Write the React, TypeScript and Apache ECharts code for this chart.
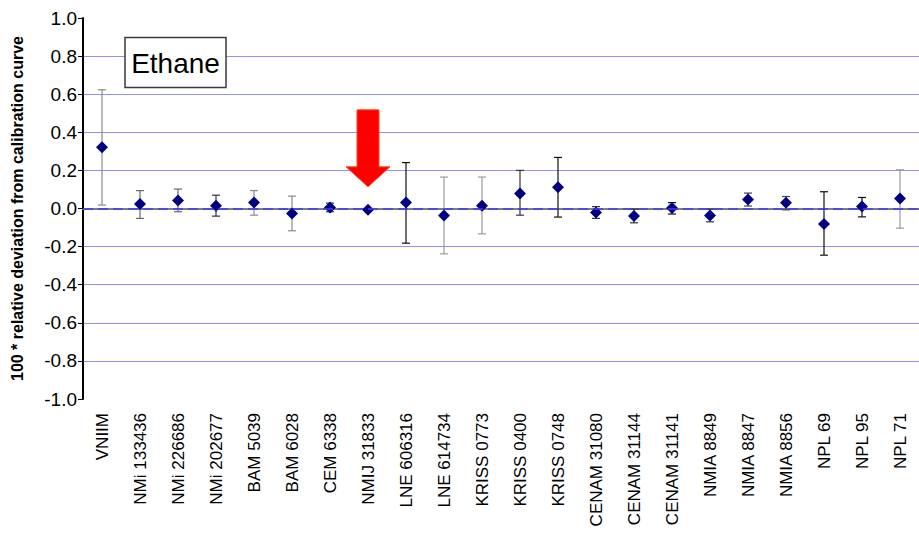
import React, { useEffect, useRef } from "react";
import * as echarts from "echarts";

const CATEGORIES = [
  "VNIIM", "NMi 133436", "NMi 226686", "NMi 202677", "BAM 5039", "BAM 6028",
  "CEM 6338", "NMIJ 31833", "LNE 606316", "LNE 614734", "KRISS 0773", "KRISS 0400",
  "KRISS 0748", "CENAM 31080", "CENAM 31144", "CENAM 31141", "NMIA 8849", "NMIA 8847",
  "NMIA 8856", "NPL 69", "NPL 95", "NPL 71",
];

const VALUES = [
  0.322, 0.023, 0.042, 0.014, 0.031, -0.026, 0.005, -0.007, 0.031, -0.037, 0.014,
  0.079, 0.112, -0.021, -0.04, 0.002, -0.037, 0.047, 0.03, -0.082, 0.01, 0.052,
];

const UPPER = [
  0.623, 0.094, 0.102, 0.07, 0.094, 0.065, 0.028, null, 0.241, 0.165, 0.165,
  0.2, 0.268, 0.01, -0.003, 0.031, -0.003, 0.081, 0.063, 0.088, 0.058, 0.203,
];

const LOWER = [
  0.018, -0.052, -0.017, -0.04, -0.035, -0.117, -0.017, null, -0.182, -0.238, -0.133,
  -0.035, -0.045, -0.052, -0.075, -0.029, -0.07, 0.013, -0.007, -0.245, -0.044, -0.103,
];

const Y_MIN = -1;
const Y_MAX = 1;
const Y_STEP = 0.2;
const Y_TITLE = "100 * relative deviation from calibration curve";
const LEGEND_TEXT = "Ethane";
const HIGHLIGHT = "NMIJ 31833";

// style only: tone of each error bar
const BAR_TONES = [
  "#8a8a8a", "#6a6a6a", "#6a6a6a", "#333333", "#8a8a8a", "#8a8a8a", "#333333", "#333333",
  "#111111", "#9a9a9a", "#9a9a9a", "#333333", "#111111", "#333333", "#333333", "#111111",
  "#333333", "#444444", "#444444", "#111111", "#111111", "#9a9a9a",
];

export default function App() {
  const ref = useRef<HTMLDivElement>(null);

  useEffect(() => {
    if (!ref.current) return;
    const chart = echarts.init(ref.current, null, { renderer: "svg" });

    const errData = CATEGORIES.map((_, i) => [i, LOWER[i], UPPER[i]]).filter(
      (d) => d[1] !== null && d[2] !== null
    );

    const nLines = Math.round((Y_MAX - Y_MIN) / Y_STEP) + 1;
    const gridColors = Array.from({ length: nLines }, (_, i) => {
      const v = Y_MIN + i * Y_STEP;
      if (Math.abs(v) < 1e-9 || Math.abs(v - Y_MAX) < 1e-9 || Math.abs(v - Y_MIN) < 1e-9)
        return "rgba(0,0,0,0)";
      return "#9090ff";
    });

    chart.setOption({
      animation: false,
      backgroundColor: "#ffffff",
      grid: { left: 83, right: 0, top: 18, bottom: 135, containLabel: false },
      xAxis: {
        type: "category",
        data: CATEGORIES,
        boundaryGap: true,
        axisLine: { show: true, lineStyle: { color: "#7f7f7f", width: 2 } },
        axisTick: { show: false },
        axisLabel: {
          rotate: 90,
          interval: 0,
          margin: 14,
          color: "#000",
          fontFamily: "Liberation Sans, Arial, sans-serif",
          fontSize: 17,
        },
        splitLine: { show: false },
      },
      yAxis: {
        type: "value",
        min: Y_MIN,
        max: Y_MAX,
        interval: Y_STEP,
        name: Y_TITLE,
        nameLocation: "middle",
        nameGap: 58,
        nameTextStyle: {
          fontFamily: "Liberation Sans, Arial, sans-serif",
          fontWeight: "bold",
          fontSize: 16,
          color: "#000",
        },
        axisLine: { show: true, lineStyle: { color: "#000", width: 2 } },
        axisTick: { show: true, inside: false, length: 5, lineStyle: { color: "#000" } },
        axisLabel: {
          margin: 6,
          color: "#000",
          fontFamily: "Liberation Sans, Arial, sans-serif",
          fontSize: 19,
          formatter: (v: number) => v.toFixed(1),
        },
        splitLine: { show: true, lineStyle: { color: gridColors, width: 1 } },
      },
      series: [
        {
          type: "custom",
          name: "uncertainty",
          data: errData,
          z: 2,
          renderItem: (params: any, api: any) => {
            const idx = api.value(0);
            const lo = api.coord([idx, api.value(1)]);
            const hi = api.coord([idx, api.value(2)]);
            const c = BAR_TONES[idx] || "#333";
            const half = 4;
            const style = { stroke: c, lineWidth: 1.2 };
            return {
              type: "group",
              children: [
                { type: "line", shape: { x1: hi[0], y1: hi[1], x2: lo[0], y2: lo[1] }, style },
                { type: "line", shape: { x1: hi[0] - half, y1: hi[1], x2: hi[0] + half, y2: hi[1] }, style },
                { type: "line", shape: { x1: lo[0] - half, y1: lo[1], x2: lo[0] + half, y2: lo[1] }, style },
              ],
            };
          },
        },
        {
          type: "scatter",
          name: LEGEND_TEXT,
          data: VALUES,
          symbol: "diamond",
          symbolSize: [12, 12],
          itemStyle: { color: "#000080", opacity: 1 },
          z: 3,
          markLine: {
            silent: true,
            symbol: "none",
            label: { show: false },
            lineStyle: { type: [10, 5], color: "#3c3cff", width: 1.6, opacity: 1 },
            data: [{ yAxis: 0 }],
          },
        },
      ],
    });

    const hi = CATEGORIES.indexOf(HIGHLIGHT);
    const p = chart.convertToPixel({ xAxisIndex: 0, yAxisIndex: 0 }, [hi, VALUES[hi]]) as number[];
    const tipX = p[0];
    const tipY = p[1] - 23;

    chart.setOption({
      graphic: [
        {
          type: "rect",
          shape: { x: 125, y: 37.5, width: 101, height: 50 },
          style: { fill: "#ffffff", stroke: "#3a3a3a", lineWidth: 1.5 },
          z: 10,
        },
        {
          type: "text",
          x: 175.5,
          y: 63,
          style: {
            text: LEGEND_TEXT,
            fill: "#000",
            font: "28px 'Liberation Sans', Arial, sans-serif",
            textAlign: "center",
            textVerticalAlign: "middle",
          },
          z: 11,
        },
        {
          type: "polygon",
          x: tipX,
          y: tipY,
          shape: {
            points: [
              [-11, -77], [11, -77], [11, -20], [22, -20], [0, 0], [-22, -20], [-11, -20],
            ],
          },
          style: { fill: "#ff0000", stroke: "#ff4a1a", lineWidth: 1 },
          z: 10,
        },
      ],
    });

    return () => chart.dispose();
  }, []);

  return (
    <div
      ref={ref}
      style={{ position: "fixed", left: 0, top: 0, width: 919, height: 534, background: "#fff" }}
    />
  );
}
